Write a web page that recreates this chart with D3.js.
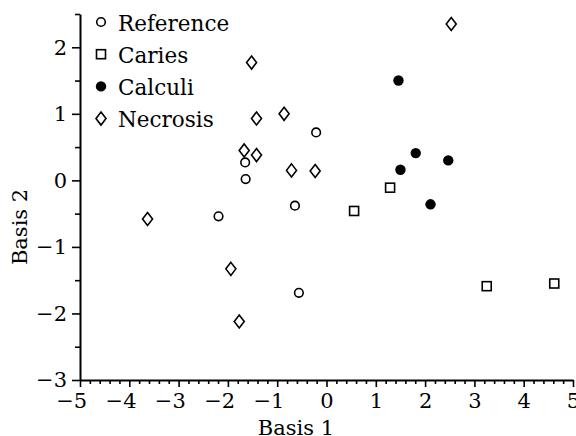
<!DOCTYPE html>
<html>
<head>
<meta charset="utf-8">
<script src="https://cdn.jsdelivr.net/npm/d3@7"></script>
<style>
  body { margin: 0; background: #fff; }
  text { font-family: "DejaVu Serif", serif; fill: #000; }
</style>
</head>
<body>
<div id="chart"></div>
<script>
// series as [Basis 1, Basis 2]
var reference = [[-0.21, 0.72], [-1.65, 0.27], [-1.64, 0.02], [-2.19, -0.54], [-0.64, -0.38], [-0.56, -1.69]];
var caries = [[0.56, -0.46], [1.29, -0.11], [3.25, -1.59], [4.62, -1.55]];
var calculi = [[1.46, 1.50], [1.81, 0.41], [1.50, 0.16], [2.47, 0.30], [2.11, -0.36]];
var necrosis = [[2.53, 2.35], [-1.52, 1.77], [-0.86, 1.00], [-1.42, 0.93], [-1.67, 0.45], [-1.42, 0.38],
                [-0.71, 0.15], [-0.23, 0.14], [-3.63, -0.58], [-1.94, -1.33], [-1.77, -2.12]];
var seriesNames = ["Reference", "Caries", "Calculi", "Necrosis"];
var xTicks = [-5, -4, -3, -2, -1, 0, 1, 2, 3, 4, 5];
var yTicks = [-3, -2, -1, 0, 1, 2];

var W = 576, H = 436;
var margin = {top: 14, right: 3, bottom: 56, left: 80};
var width = W - margin.left - margin.right;
var height = H - margin.top - margin.bottom;

var svg = d3.select("#chart").append("svg")
    .attr("width", W).attr("height", H)
  .append("g")
    .attr("transform", "translate(" + margin.left + "," + margin.top + ")");

var x = d3.scaleLinear().domain([-5, 5]).range([0, width]);
var y = d3.scaleLinear().domain([-3, 2.5]).range([height, 0]);

// minor ticks every 0.2 on x, 0.5 on y
var xMinor = d3.range(-50, 51, 2).map(d => d / 10).filter(d => xTicks.indexOf(d) < 0);
var yMinor = [-2.5, -1.5, -0.5, 0.5, 1.5, 2.5];

var fmt = d => d < 0 ? "\u2212" + Math.abs(d) : "" + d;

svg.append("g")
    .attr("transform", "translate(0," + height + ")")
    .call(d3.axisBottom(x).tickValues(xMinor).tickSize(4).tickSizeOuter(0).tickFormat(""))
    .call(g => g.select(".domain").remove());
var xAxis = svg.append("g")
    .attr("transform", "translate(0," + height + ")")
    .call(d3.axisBottom(x).tickValues(xTicks).tickSize(7).tickSizeOuter(0).tickFormat(fmt).tickPadding(6));
xAxis.selectAll("text").attr("text-anchor", "end").attr("dx", "0.32em");

svg.append("g")
    .call(d3.axisLeft(y).tickValues(yMinor).tickSize(5).tickSizeOuter(0).tickFormat(""))
    .call(g => g.select(".domain").remove());
var yAxis = svg.append("g")
    .call(d3.axisLeft(y).tickValues(yTicks).tickSize(8).tickSizeOuter(0).tickFormat(fmt).tickPadding(5));

svg.selectAll(".tick line").attr("stroke", "#000").attr("stroke-width", 1.6);
svg.selectAll(".domain").attr("stroke", "#000").attr("stroke-width", 2);
svg.selectAll(".tick text").style("font-size", "21px").attr("fill", "#000");

// axis titles
svg.append("text")
    .attr("x", x(-0.62)).attr("y", height + 55)
    .attr("text-anchor", "middle")
    .style("font-size", "21px")
    .text("Basis 1");
svg.append("text")
    .attr("transform", "rotate(-90)")
    .attr("x", -(y(-0.7))).attr("y", -53)
    .attr("text-anchor", "middle")
    .style("font-size", "21px")
    .text("Basis 2");

// markers
function drawMarker(sel, type) {
  if (type === 0) {
    sel.append("circle").attr("r", 4.3).attr("fill", "#fff").attr("stroke", "#000").attr("stroke-width", 1.6);
  } else if (type === 1) {
    sel.append("rect").attr("x", -4.5).attr("y", -4.5).attr("width", 9).attr("height", 9)
      .attr("fill", "#fff").attr("stroke", "#000").attr("stroke-width", 1.6);
  } else if (type === 2) {
    sel.append("circle").attr("r", 5.2).attr("fill", "#000");
  } else {
    sel.append("path").attr("d", "M0,-6.5L5,0L0,6.5L-5,0Z")
      .attr("fill", "#fff").attr("stroke", "#000").attr("stroke-width", 1.6);
  }
}

[reference, caries, calculi, necrosis].forEach(function(series, k) {
  svg.append("g").selectAll("g")
    .data(series)
    .enter()
    .append("g")
      .attr("transform", d => "translate(" + x(d[0]) + "," + y(d[1]) + ")")
      .each(function() { drawMarker(d3.select(this), k); });
});

// legend
var legend = svg.append("g").attr("transform", "translate(21,8)");
seriesNames.forEach(function(name, k) {
  var row = legend.append("g").attr("transform", "translate(0," + (k * 32.2) + ")");
  drawMarker(row, k);
  row.append("text").attr("x", 17).attr("y", 8.5).style("font-size", "21.5px").text(name);
});
</script>
</body>
</html>
